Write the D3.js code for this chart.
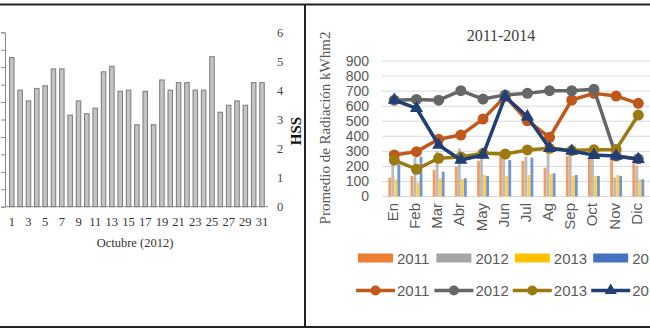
<!DOCTYPE html>
<html>
<head>
<meta charset="utf-8">
<script src="https://cdn.jsdelivr.net/npm/d3@7"></script>
<style>
  html, body { margin: 0; padding: 0; background: #fff; }
  svg { display: block; }
</style>
</head>
<body>
<script>
// ---------- Left chart data (Octubre 2012, HSS) ----------
const days = [1,2,3,4,5,6,7,8,9,10,11,12,13,14,15,16,17,18,19,20,21,22,23,24,25,26,27,28,29,30,31];
const hss = [5.13,4.01,3.64,4.07,4.16,4.74,4.74,3.15,3.64,3.20,3.39,4.64,4.83,3.97,4.01,2.82,3.97,2.82,4.36,4.01,4.27,4.27,4.01,4.01,5.16,3.25,3.49,3.64,3.49,4.27,4.27];
const dayTickLabels = [1,3,5,7,9,11,13,15,17,19,21,23,25,27,29,31];
const hssTicks = [0,1,2,3,4,5,6];
const leftHiddenTicks = [0,1,2,3,4,5,6,7,8,9,10];

// ---------- Right chart data (2011-2014) ----------
const months = ["En","Feb","Mar","Abr","May","Jun","Jul","Ag","Sep","Oct","Nov","Dic"];
const seriesNames = ["2011","2012","2013","2014"];
const bars2011 = [125,136,176,198,238,276,236,191,269,254,242,220];
const bars2012 = [215,260,300,320,300,280,265,300,290,300,127,205];
const bars2013 = [114,92,121,116,143,136,143,149,136,136,143,114];
const bars2014 = [214,264,165,121,136,242,258,154,143,136,136,114];
const line2011 = [276,298,380,408,514,665,503,393,641,685,667,619];
const line2012 = [640,645,640,703,647,675,685,703,703,712,269,250];
const line2013 = [242,181,254,262,287,282,309,320,305,310,313,541];
const line2014 = [641,586,342,242,276,663,530,320,302,275,269,247];
const radTicks = [0,100,200,300,400,500,600,700,800,900];

const barColors = ["#ED7D31","#A5A5A5","#FFC000","#4472C4"];
const lineColors = ["#C0581C","#666666","#9C7A12","#223F74"];

const svg = d3.select("body").append("svg").attr("width",650).attr("height",330);
svg.append("rect").attr("width",650).attr("height",330).attr("fill","#fff");

const serif = "'Liberation Serif', 'Times New Roman', serif";
const sans = "'Liberation Sans', Arial, sans-serif";

// ================= LEFT CHART =================
const L = svg.append("g");
const yL = d3.scaleLinear().domain([0,6]).range([206.7,32.3]);
const yHidden = d3.scaleLinear().domain([0,10]).range([206.7,32.3]);
const xL = d3.scaleBand().domain(days).range([7.6,266.2]).paddingInner(0.46).paddingOuter(0.23);

const la = L.append("g").attr("transform","translate(5,0)")
  .call(d3.axisLeft(yHidden).tickValues(leftHiddenTicks).tickSize(4).tickFormat(""));
la.selectAll("line,path").attr("stroke","#8a8a8a");

L.append("line").attr("x1",5).attr("x2",268).attr("y1",yL(0)).attr("y2",yL(0)).attr("stroke","#8a8a8a");

L.selectAll("rect.hss").data(hss).enter().append("rect")
  .attr("class","hss")
  .attr("x",(d,i)=>xL(days[i]))
  .attr("width",xL.bandwidth())
  .attr("y",d=>yL(d))
  .attr("height",d=>yL(0)-yL(d))
  .attr("fill","#c4c4c4").attr("stroke","#7a7a7a").attr("stroke-width",1);

const ra = L.append("g").attr("transform","translate(270,0)")
  .call(d3.axisRight(yL).tickValues(hssTicks).tickSize(0).tickPadding(7).tickFormat(d3.format("d")));
ra.select(".domain").remove();
ra.selectAll("text").attr("font-family",serif).attr("font-size",12.5).attr("fill","#444");

const xa = L.append("g").attr("transform",`translate(0,${yL(0)})`)
  .call(d3.axisBottom(xL).tickValues(dayTickLabels).tickSize(0).tickPadding(10));
xa.select(".domain").remove();
xa.selectAll("text").attr("font-family",serif).attr("font-size",12.5).attr("fill","#333");

L.append("text").attr("x",135).attr("y",247).attr("text-anchor","middle")
  .attr("font-family",serif).attr("font-size",12.5).attr("fill","#333").text("Octubre (2012)");

L.append("text").attr("transform","translate(296,131) rotate(-90)")
  .attr("text-anchor","middle").attr("dominant-baseline","central")
  .attr("font-family",serif).attr("font-weight","bold").attr("font-size",15).attr("fill","#111").text("HSS");

// ================= RIGHT CHART =================
const R = svg.append("g");
const y = d3.scaleLinear().domain([0,900]).range([196.5,61]);
const x0 = d3.scaleBand().domain(months).range([383.2,649.4]).paddingInner(0.45).paddingOuter(0.225);
const x1 = d3.scaleBand().domain(seriesNames).range([0,x0.bandwidth()]).padding(0.05);
const cx = m => x0(m) + x0.bandwidth()/2;

R.selectAll("line.grid").data(radTicks).enter().append("line")
  .attr("class","grid").attr("x1",382).attr("x2",650)
  .attr("y1",d=>y(d)).attr("y2",d=>y(d)).attr("stroke","#d9d9d9").attr("stroke-width",1);

const ya = R.append("g").attr("transform","translate(382,0)")
  .call(d3.axisLeft(y).tickValues(radTicks).tickSize(0).tickPadding(13));
ya.select(".domain").remove();
ya.selectAll("text").attr("font-family",sans).attr("font-size",14).attr("fill","#595959");

const barSeries = [bars2011,bars2012,bars2013,bars2014];
barSeries.forEach((vals,si)=>{
  R.append("g").selectAll("rect").data(vals).enter().append("rect")
    .attr("x",(d,i)=>x0(months[i]) + x1(seriesNames[si]))
    .attr("width",x1.bandwidth())
    .attr("y",d=>y(d))
    .attr("height",d=>y(0)-y(d))
    .attr("fill",barColors[si]).attr("opacity",0.75);
});

R.selectAll("text.month").data(months).enter().append("text")
  .attr("class","month")
  .attr("transform",d=>`translate(${cx(d)-2},203) rotate(-90)`)
  .attr("text-anchor","end").attr("dominant-baseline","central")
  .attr("font-family",sans).attr("font-size",15).attr("fill","#595959").text(d=>d);

const lineSeries = [line2011,line2012,line2013,line2014];
const lineGen = d3.line().x((d,i)=>cx(months[i])).y(d=>y(d));
lineSeries.forEach((vals,si)=>{
  const g = R.append("g");
  g.append("path").datum(vals).attr("d",lineGen)
    .attr("fill","none").attr("stroke",lineColors[si]).attr("stroke-width",3.5).attr("stroke-linejoin","round");
  if (si < 3) {
    g.selectAll("circle").data(vals).enter().append("circle")
      .attr("cx",(d,i)=>cx(months[i])).attr("cy",d=>y(d)).attr("r",5.5)
      .attr("fill",lineColors[si]);
  } else {
    g.selectAll("path.tri").data(vals).enter().append("path")
      .attr("class","tri")
      .attr("transform",(d,i)=>`translate(${cx(months[i])},${y(d)})`)
      .attr("d",d3.symbol().type(d3.symbolTriangle).size(75))
      .attr("fill",lineColors[si]);
  }
});

R.append("text").attr("x",501).attr("y",41).attr("text-anchor","middle")
  .attr("font-family",serif).attr("font-size",16).attr("fill","#404040").text("2011-2014");
R.append("text").attr("transform","translate(325,128) rotate(-90)")
  .attr("text-anchor","middle").attr("dominant-baseline","central")
  .attr("font-family",serif).attr("font-size",15).attr("fill","#595959")
  .text("Promedio de Radiación kWhm2");

// legend (extends past the right edge, as in the reference)
const legStep = 78.4;
seriesNames.forEach((s,i)=>{
  const lx = 358 + i*legStep;
  R.append("rect").attr("x",lx).attr("y",253.5).attr("width",35).attr("height",9).attr("fill",barColors[i]);
  R.append("text").attr("x",lx+39).attr("y",263.5).attr("font-family",sans).attr("font-size",15)
    .attr("fill","#595959").text(s);
  const l2 = 356 + i*legStep;
  const ly = 290.5;
  R.append("line").attr("x1",l2).attr("x2",l2+39).attr("y1",ly).attr("y2",ly)
    .attr("stroke",lineColors[i]).attr("stroke-width",3.5);
  if (i < 3) {
    R.append("circle").attr("cx",l2+19.5).attr("cy",ly).attr("r",5).attr("fill",lineColors[i]);
  } else {
    R.append("path").attr("transform",`translate(${l2+19.5},${ly})`)
      .attr("d",d3.symbol().type(d3.symbolTriangle).size(65)).attr("fill",lineColors[i]);
  }
  R.append("text").attr("x",l2+41).attr("y",ly+5.5).attr("font-family",sans).attr("font-size",15)
    .attr("fill","#595959").text(s);
});

// frame lines
svg.append("line").attr("x1",0).attr("x2",650).attr("y1",4.5).attr("y2",4.5).attr("stroke","#222").attr("stroke-width",2);
svg.append("line").attr("x1",0).attr("x2",650).attr("y1",327).attr("y2",327).attr("stroke","#222").attr("stroke-width",2);
svg.append("line").attr("x1",305).attr("x2",305).attr("y1",4.5).attr("y2",327).attr("stroke","#222").attr("stroke-width",2);
</script>
</body>
</html>
